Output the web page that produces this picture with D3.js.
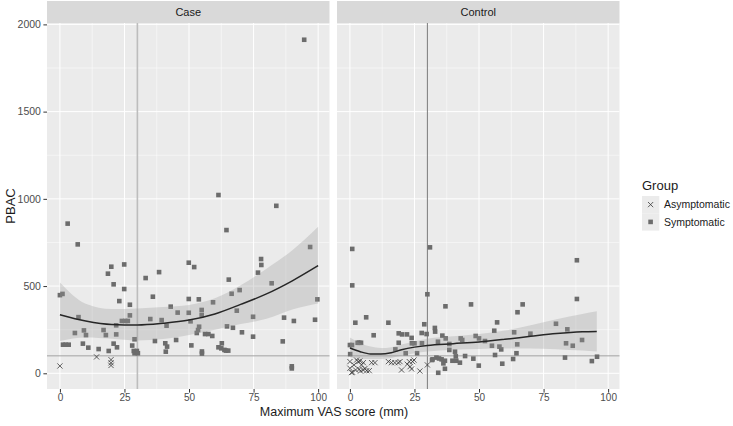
<!DOCTYPE html>
<html><head><meta charset="utf-8">
<script src="https://cdn.jsdelivr.net/npm/d3@7"></script>
<style>body{margin:0;background:#fff}svg{display:block;font-family:"Liberation Sans",Arial,sans-serif}</style>
</head><body><div id="chart"></div>
<script>
const panels = ["Case", "Control"];
const groups = ["Asymptomatic", "Symptomatic"];
const xTicks = [0, 25, 50, 75, 100];
const yTicks = [0, 500, 1000, 1500, 2000];
const vlineX = 30, hlineY = 100;

// Case panel points [VAS, PBAC]
const caseSym = [[0,448],[1,455],[3,858],[6.9,739],[5.8,231],[7.2,322],[1.2,164],[2.2,164],[3.4,164],[8.9,170],
 [9.3,246],[10.1,219],[11,147],[15,139],[16.9,248],[17.8,219],[18.6,571],[18.9,128],[19.9,611],[20.8,510],
 [20.8,170],[21.8,275],[21.8,223],[22.1,149],[23,414],[24,300],[25.3,300],[26.3,300],[24.9,624],[24.9,483],
 [27.1,393],[27.1,332],[28,159],[28.9,195],[28.6,128],[28.9,115],[29.8,128],[30.2,115],[33.2,546],[36,439],
 [38.4,580],[35,311],[39.4,305],[36.8,185],[40.8,172],[41.5,153],[41,124],[42.9,382],[41.3,273],[45,191],
 [45.6,348],[49.9,634],[52,609],[49.9,426],[53.8,424],[59.3,407],[49.9,347],[54.9,363],[54.9,334],[50.9,160],
 [50.6,298],[55,125],[55,113],[53.9,267],[53.5,248],[53,231],[56.2,225],[57.5,225],[59,214],[64.5,821],
 [61.4,1022],[65.4,537],[66.5,456],[69.6,477],[68.5,359],[64.7,269],[67,261],[70.5,235],[74.8,210],[74.8,324],
 [76.7,577],[77.9,655],[78,621],[82,516],[83.8,960],[86.3,183],[86.8,319],[90.6,300],[89.8,40],[89.8,28],
 [94.6,1912],[96.9,724],[98.8,307],[99.7,424],[62.7,172],[61.4,149],[62.5,143],[63.7,134],[64.3,130],[65.2,130]];
const caseAsym = [[0,42],[14.2,94],[19.8,78],[19.8,60],[19.8,45]];

// Control panel points
const ctrlSym = [[0.9,713],[0.9,504],[31,722],[30,453],[37,384],[46.9,395],[66.9,395],[64.9,350],[87.9,648],[87.9,426],
 [6.3,321],[2.1,290],[14.9,290],[9.2,218],[18.9,229],[20.2,223],[22.1,223],[23.9,203],[25,172],[28.8,281],
 [27.8,231],[29.7,225],[27.9,172],[32.9,260],[33,239],[35.8,216],[37.1,200],[42.9,200],[43.5,191],[48.7,214],
 [50,200],[52.3,185],[55.9,244],[57,292],[55,158],[57.9,153],[58.6,137],[63.6,235],[64.8,166],[64.5,115],
 [63.2,82],[69.9,227],[79.8,284],[84.2,252],[83.7,172],[86.3,158],[89.9,191],[83.3,90],[93.7,70],[95.7,95],
 [56.2,105],[59,55],[49.9,44],[47.8,84],[44.6,99],[39.7,72],[41.2,72],[42.6,61],[40.7,124],[41,97],
 [38.5,168],[38.5,134],[34.1,181],[33.5,90],[34.5,85],[35.5,80],[36.8,72],[36.2,57],[36.8,26],[34.2,3],
 [31.8,76],[0,162],[0.8,162],[3,175],[3.6,175],[4.3,175],[0.1,110],[18.9,175],[24,172],[17.6,137],
 [21.6,115],[26,115],[32,80]];
const ctrlAsym = [[0,29],[1,6],[2.2,19],[3.2,67],[3.9,71],[4.5,48],[5.2,19],[6.5,15],[7.5,15],[8.4,61],
 [9.7,61],[14.9,67],[16.1,61],[17.4,61],[18.7,61],[20,19],[22.2,52],[23.3,38],[24.3,67],[24.8,76],
 [27.1,13],[30,48],[0,67],[0.6,4],[2.6,76],[3.6,23],[4.1,13],[5.8,27],[19.4,67],[23,67],
 [23.9,25],[1.6,48],[5.2,61]];

// Smooth fits
const caseSmoothX  = [0, 10, 20, 30, 40, 50, 60, 70, 80, 90, 100];
const caseSmoothY  = [336, 300, 280, 277, 287, 305, 340, 395, 455, 530, 617];
const caseSmoothHi = [520, 398, 368, 372, 380, 392, 430, 505, 600, 705, 840];
const caseSmoothLo = [185, 205, 198, 188, 196, 220, 250, 282, 312, 365, 400];
const ctrlSmoothX  = [0, 4, 8, 12, 16, 20, 25, 30, 40, 50, 60, 70, 80, 90, 95.6];
const ctrlSmoothY  = [145, 124, 111, 110, 118, 135, 150, 160, 170, 180, 195, 212, 228, 238, 240];
const ctrlSmoothHi = [205, 172, 153, 145, 150, 165, 182, 198, 212, 225, 245, 275, 310, 340, 355];
const ctrlSmoothLo = [92, 84, 82, 82, 88, 100, 115, 125, 135, 140, 142, 142, 138, 130, 125];

const W = 733, H = 426;
const svg = d3.select("#chart").append("svg").attr("width", W).attr("height", H);

const panelTop = 23, panelBottom = 389, stripTop = 1;
const panelX = [[47, 329.5], [337, 619.5]];
const yScale = d3.scaleLinear().domain([-90, 2008]).range([panelBottom, panelTop]);

const pdata = [
  {sym: caseSym, asym: caseAsym, sx: caseSmoothX, sy: caseSmoothY, hi: caseSmoothHi, lo: caseSmoothLo, vcol: "#bdbdbd", vw: 1.6},
  {sym: ctrlSym, asym: ctrlAsym, sx: ctrlSmoothX, sy: ctrlSmoothY, hi: ctrlSmoothHi, lo: ctrlSmoothLo, vcol: "#7a7a7a", vw: 1}
];

panels.forEach((name, i) => {
  const [x0, x1] = panelX[i];
  const x = d3.scaleLinear().domain([-5, 104.4]).range([x0, x1]);
  const g = svg.append("g");
  g.append("rect").attr("x", x0).attr("y", stripTop).attr("width", x1 - x0).attr("height", panelTop - stripTop).attr("fill", "#d9d9d9");
  g.append("text").attr("x", (x0 + x1) / 2).attr("y", 16).attr("text-anchor", "middle").attr("font-size", 11).attr("fill", "#1a1a1a").text(name);
  g.append("rect").attr("x", x0).attr("y", panelTop).attr("width", x1 - x0).attr("height", panelBottom - panelTop).attr("fill", "#ebebeb");
  [12.5, 37.5, 62.5, 87.5].forEach(v => g.append("line").attr("x1", x(v)).attr("x2", x(v)).attr("y1", panelTop).attr("y2", panelBottom).attr("stroke", "#fff").attr("stroke-width", 0.5));
  [250, 750, 1250, 1750].forEach(v => g.append("line").attr("x1", x0).attr("x2", x1).attr("y1", yScale(v)).attr("y2", yScale(v)).attr("stroke", "#fff").attr("stroke-width", 0.5));
  xTicks.forEach(v => g.append("line").attr("x1", x(v)).attr("x2", x(v)).attr("y1", panelTop).attr("y2", panelBottom).attr("stroke", "#fff").attr("stroke-width", 1));
  yTicks.forEach(v => g.append("line").attr("x1", x0).attr("x2", x1).attr("y1", yScale(v)).attr("y2", yScale(v)).attr("stroke", "#fff").attr("stroke-width", 1));

  const d = pdata[i];
  g.append("line").attr("x1", x(vlineX)).attr("x2", x(vlineX)).attr("y1", panelTop).attr("y2", panelBottom).attr("stroke", d.vcol).attr("stroke-width", d.vw);
  g.append("line").attr("x1", x0).attr("x2", x1).attr("y1", yScale(hlineY)).attr("y2", yScale(hlineY)).attr("stroke", "#a3a3a3").attr("stroke-width", 1);

  const s = 4.6;
  g.selectAll(null).data(d.sym).enter().append("rect")
    .attr("x", p => x(p[0]) - s / 2).attr("y", p => yScale(p[1]) - s / 2)
    .attr("width", s).attr("height", s).attr("fill", "#6c6c6c");
  const c = 2.6;
  g.selectAll(null).data(d.asym).enter().append("path")
    .attr("d", p => { const cx = x(p[0]), cy = yScale(p[1]); return `M${cx-c},${cy-c}L${cx+c},${cy+c}M${cx-c},${cy+c}L${cx+c},${cy-c}`; })
    .attr("stroke", "#3a3a3a").attr("stroke-width", 0.8).attr("fill", "none");

  const idx = d.sx.map((v, k) => k);
  const area = d3.area().curve(d3.curveMonotoneX).x(k => x(d.sx[k])).y0(k => yScale(d.lo[k])).y1(k => yScale(d.hi[k]));
  g.append("path").attr("d", area(idx)).attr("fill", "#999").attr("fill-opacity", 0.3);
  const line = d3.line().curve(d3.curveMonotoneX).x(k => x(d.sx[k])).y(k => yScale(d.sy[k]));
  g.append("path").attr("d", line(idx)).attr("fill", "none").attr("stroke", "#262626").attr("stroke-width", 1.5);

  const xa = g.append("g").attr("transform", `translate(0,${panelBottom})`).call(d3.axisBottom(x).tickValues(xTicks).tickFormat(d3.format("d")).tickSize(3.6).tickPadding(1.5));
  xa.select(".domain").remove();
  xa.selectAll("line").attr("stroke", "#333");
  xa.selectAll("text").attr("fill", "#4d4d4d").attr("font-size", 10).attr("font-family", "Liberation Sans, Arial, sans-serif");
});

const ya = svg.append("g").attr("transform", `translate(${panelX[0][0]},0)`).call(d3.axisLeft(yScale).tickValues(yTicks).tickFormat(d3.format("d")).tickSize(3.6).tickPadding(2.5));
ya.select(".domain").remove();
ya.selectAll("line").attr("stroke", "#333");
ya.selectAll("text").attr("fill", "#4d4d4d").attr("font-size", 10.5).attr("font-family", "Liberation Sans, Arial, sans-serif");

svg.append("text").attr("x", 334).attr("y", 416).attr("text-anchor", "middle").attr("font-size", 12.5).attr("fill", "#1a1a1a").text("Maximum VAS score (mm)");
svg.append("text").attr("transform", `translate(15,${(panelTop + panelBottom) / 2}) rotate(-90)`).attr("text-anchor", "middle").attr("font-size", 13).attr("fill", "#1a1a1a").text("PBAC");

const lg = svg.append("g").attr("transform", "translate(642,0)");
lg.append("text").attr("x", 0).attr("y", 190).attr("font-size", 13).attr("fill", "#1a1a1a").text("Group");
groups.forEach((gname, k) => {
  const y0 = 196 + k * 17.3;
  lg.append("rect").attr("x", 0).attr("y", y0).attr("width", 17.3).attr("height", 17.3).attr("fill", "#ebebeb");
  const cx = 8.6, cy = y0 + 8.6;
  if (k === 0) {
    const c = 2.6;
    lg.append("path").attr("d", `M${cx-c},${cy-c}L${cx+c},${cy+c}M${cx-c},${cy+c}L${cx+c},${cy-c}`).attr("stroke", "#3a3a3a").attr("stroke-width", 0.8);
  } else {
    lg.append("rect").attr("x", cx - 2.3).attr("y", cy - 2.3).attr("width", 4.6).attr("height", 4.6).attr("fill", "#6c6c6c");
  }
  lg.append("text").attr("x", 22).attr("y", cy + 3.8).attr("font-size", 10.5).attr("fill", "#1a1a1a").text(gname);
});
</script></body></html>
